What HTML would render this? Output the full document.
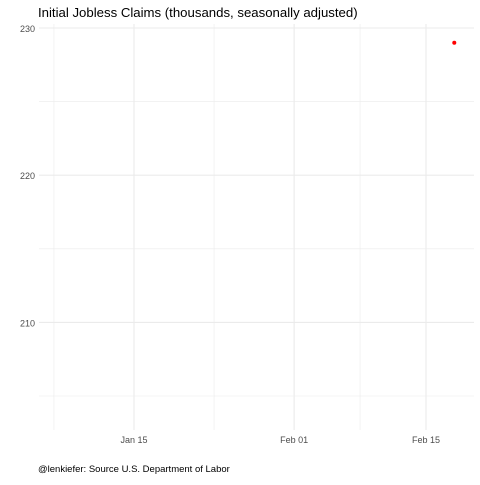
<!DOCTYPE html>
<html><head><meta charset="utf-8"><style>
body{margin:0;background:#fff}
svg text{font-family:"Liberation Sans",sans-serif}
</style></head><body>
<svg width="480" height="480" id="c">
<text x="38" y="17" font-size="13.2" fill="#000">Initial Jobless Claims (thousands, seasonally adjusted)</text>
<text x="38" y="472" font-size="9.5" fill="#000">@lenkiefer: Source U.S. Department of Labor</text>
<g id="grid"></g><g id="marks"></g>
</svg>
<script>
const dates=["2018-02-18"];
const claims=[229];
const yTicks=[210,220,230];
const yMinor=[205,215,225];
const xTickLabels=["Jan 15","Feb 01","Feb 15"];
const xTickDates=["2018-01-15","2018-02-01","2018-02-15"];
const day=864e5, x0=Date.parse("2018-01-15"), y0=205;
function X(d){return 134+(Date.parse(d)-x0)/day*9.42;}
function Xd(ms){return 134+(ms-x0)/day*9.42;}
function Y(v){return 396-(v-y0)*14.72;}
const ns="http://www.w3.org/2000/svg",g=document.getElementById('grid'),m=document.getElementById('marks');
function line(x1,y1,x2,y2,w,name){const l=document.createElementNS(ns,'line');
l.setAttribute('x1',x1);l.setAttribute('y1',y1);l.setAttribute('x2',x2);l.setAttribute('y2',y2);
l.setAttribute('stroke','#ebebeb');l.setAttribute('stroke-width',w);


g.appendChild(l);}
function text(x,y,s,anchor,name){const t=document.createElementNS(ns,'text');
t.setAttribute('x',x);t.setAttribute('y',y);t.setAttribute('font-size','9');t.setAttribute('fill','#4d4d4d');t.setAttribute('text-anchor',anchor);t.textContent=s;


g.appendChild(t);}
yMinor.forEach(v=>line(39,Y(v),474,Y(v),0.6,'y-minor-gridline'));
[Xd(Date.parse("2018-01-15")-8.5*day),Xd(Date.parse("2018-01-23T12:00")),Xd(Date.parse("2018-02-08"))].forEach(x=>line(x,24,x,430,0.6,'x-minor-gridline'));
yTicks.forEach(v=>{line(39,Y(v),474,Y(v),1.1,'y-major-gridline');text(35,Y(v)+4,String(v),'end','y-tick-label');});
xTickDates.forEach((d,i)=>{line(X(d),24,X(d),430,1.1,'x-major-gridline');text(X(d),443,xTickLabels[i],'middle','x-tick-label');});
dates.forEach((d,i)=>{const c=document.createElementNS(ns,'circle');
c.setAttribute('cx',X(d));c.setAttribute('cy',Y(claims[i]));c.setAttribute('r','2');c.setAttribute('fill','#ff0000');


m.appendChild(c);});
</script>
</body></html>
